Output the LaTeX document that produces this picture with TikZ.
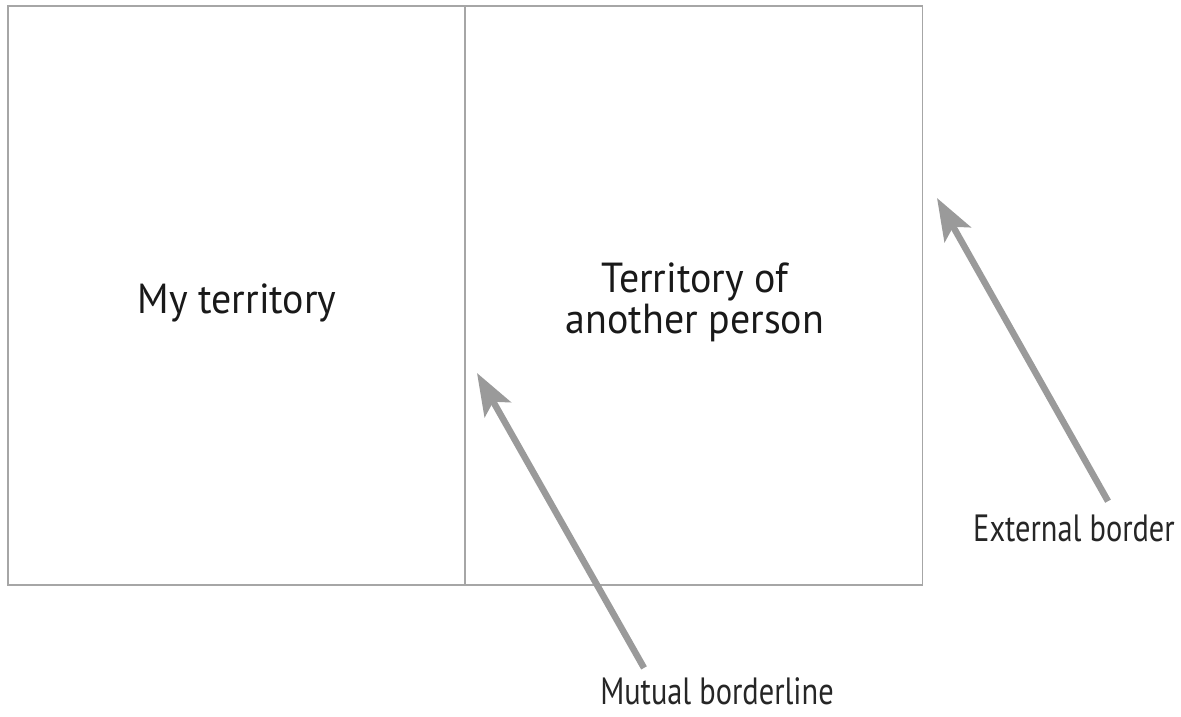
\documentclass[tikz,border=0pt]{standalone}
\usepackage{fontspec}
\setmainfont{PT Sans}
\newfontfamily\areafont[FakeStretch=0.95]{PT Sans}
\newfontfamily\labelfont[FakeStretch=0.8]{PT Sans}
\usetikzlibrary{arrows.meta,positioning}

\definecolor{bordergray}{HTML}{A6A6A6}
\definecolor{arrowgray}{HTML}{9A9A9A}

\tikzset{
  territory/.style={draw=bordergray, line width=1.5pt, minimum width=457pt,
    minimum height=579pt, inner sep=0pt},
  areatext/.style={inner sep=0pt, align=center, text=black!90,
    font=\areafont\fontsize{42}{41}\selectfont},
  pointer/.style={draw=arrowgray, line width=6.5pt,
    -{Stealth[length=42pt,width=30pt,inset=9pt]}},
  caption/.style={font=\labelfont\fontsize{38}{40}\selectfont, inner sep=0pt,
    text depth=0pt, text=black!85}
}

\begin{document}
\begin{tikzpicture}[x=1pt,y=-1pt]
\useasboundingbox (0,0) rectangle (1181,717);
% the two territories
\node [territory] (mine) at (236.5,295.5) {};
\node [territory] (other) at (694,295.5) {};
\node [areatext, anchor=base] (minetext) at (237,313) {My territory};
\node [areatext, anchor=base] (othertext) at (695,333) {Territory of\\another person};
% labels
\node [caption, anchor=base] (mutual) at (717,704) {Mutual borderline};
\node [caption, anchor=base] (external) at (1074,541) {External border};
\coordinate (mutualtip) at (477,373);
\coordinate (externaltip) at (937,198);
\draw [pointer] (mutual.north) ++(-73,-9) coordinate (mutualtail) -- (mutualtip);
\draw [pointer] (external.north) ++(34,-13) coordinate (externaltail) -- (externaltip);
\end{tikzpicture}
\end{document}
